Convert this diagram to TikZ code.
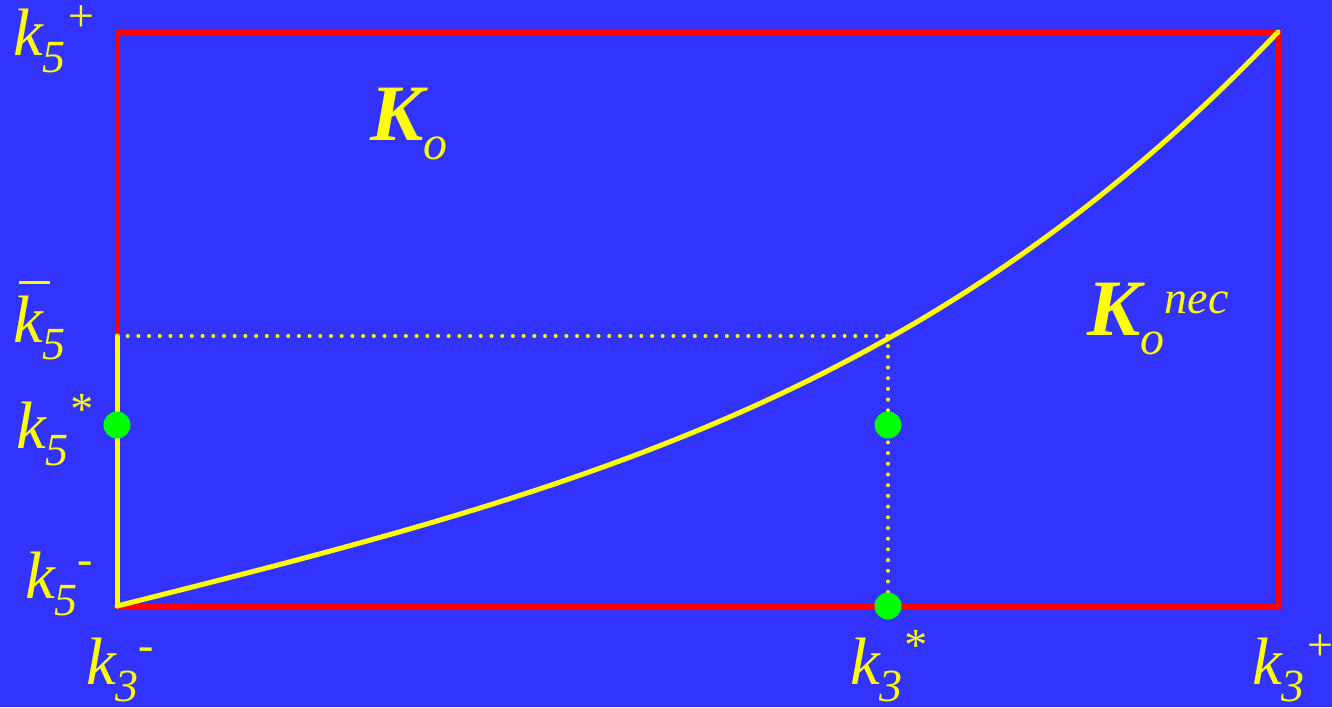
\documentclass[tikz,border=0pt]{standalone}
\usepackage{fontspec}
\setmainfont{Liberation Serif}
\usepackage{tikz}
\usetikzlibrary{positioning}

\definecolor{slideblue}{RGB}{51,51,255}
\definecolor{boxred}{RGB}{255,0,0}
\definecolor{curveyellow}{RGB}{255,255,0}
\definecolor{dotgreen}{RGB}{0,255,0}

% k with subscript and superscript set one after the other
\newcommand{\smallit}{\fontsize{46}{46}\selectfont\itshape}
\newcommand{\klab}[3]{{\itshape #1}\raisebox{-17pt}{\smallit #2}\raisebox{24pt}{\smallit #3}}

\begin{document}
\begin{tikzpicture}[
    x=1pt, y=-1pt,
    frame/.style={draw=boxred, line width=5pt},
    curve/.style={draw=curveyellow, line width=5pt, line cap=round},
    dots/.style={draw=curveyellow, line width=4pt, line cap=round, dash pattern=on 0pt off 10.7pt},
    dot/.style={circle, fill=dotgreen, inner sep=0pt, minimum size=27pt},
    lab/.style={anchor=base west, inner sep=0pt, text=curveyellow, font=\fontsize{67}{67}\selectfont}
]
    \fill [slideblue] (0,0) rectangle (1332,707);
    \useasboundingbox (0,0) rectangle (1332,707);

    \coordinate (lo) at (117,606);
    \coordinate (hi) at (1278,32);
    \coordinate (kbar) at (117,336);
    \coordinate (kst) at (888,606);

    \draw [frame] (lo) rectangle (hi);
    \draw [curve] (kbar) -- (lo);
    \draw [curve] (lo) .. controls (567,493) and (928,400) .. (hi);
    \draw [dots] (kbar) -| (kst);

    \node [dot] (s5) at (117,425) {};
    \node [dot] (sc) at (888,425) {};
    \node [dot] (s3) at (kst) {};

    % axis labels
    \node [lab] (k5p) at (13,55) {\klab{k}{5}{+}};
    \node [lab] (k5b) at (13,342) {\rlap{\hspace{6pt}\rule[58pt]{31pt}{3pt}}\klab{k}{5}{}};
    \node [lab] (k5s) at (16,448) {\klab{k}{5}{*}};
    \node [lab] (k5m) at (25,598) {\klab{k}{5}{-}};
    \node [lab] (k3m) at (86,684) {\klab{k}{3}{-}};
    \node [lab] (k3s) at (850,684) {\klab{k}{3}{*}};
    \node [lab] (k3p) at (1252,684) {\klab{k}{3}{+}};

    % region labels
    \node [lab, font=\fontsize{80}{80}\selectfont] (ko) at (370,140) {{\bfseries\itshape K}\raisebox{-19pt}{\fontsize{48}{48}\selectfont\itshape o}};
    \node [lab, font=\fontsize{80}{80}\selectfont] (kn) at (1087,335) {{\bfseries\itshape K}\raisebox{-19pt}{\fontsize{48}{48}\selectfont\itshape o}\raisebox{22pt}{\fontsize{46}{46}\selectfont\itshape nec}};
\end{tikzpicture}
\end{document}
